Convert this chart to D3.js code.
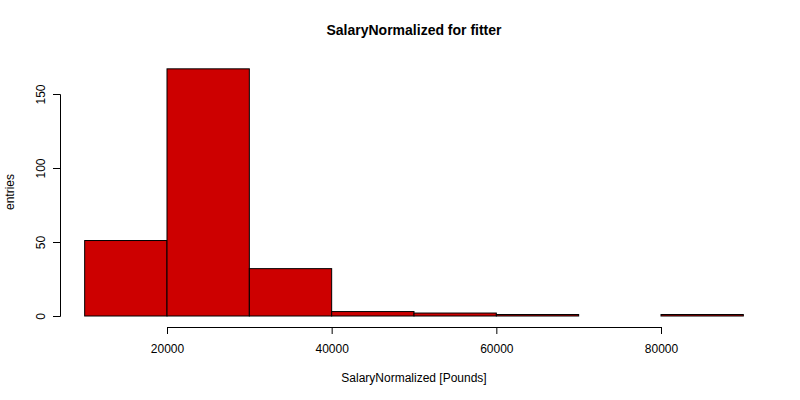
<!DOCTYPE html>
<meta charset="utf-8" />
<script src="https://d3js.org/d3.v7.js"></script>
<style>body{margin:0;background:#fff}</style>
<div id="chart"></div>
<script>
// histogram bins (lower edges) and counts
const binStarts = [10000, 20000, 30000, 40000, 50000, 60000, 70000, 80000];
const binWidth = 10000;
const counts = [51, 167, 32, 3, 2, 1, 0, 1];
const xTicks = [20000, 40000, 60000, 80000];
const yTicks = [0, 50, 100, 150];

const svg = d3.select("#chart").append("svg")
  .attr("width", 800).attr("height", 400)
  .style("font-family", "Liberation Sans, Arial, sans-serif");

const x = d3.scaleLinear().domain([20000, 80000]).range([167, 661]);
const y = d3.scaleLinear().domain([0, 150]).range([316, 94]);

svg.selectAll("rect.bar").data(binStarts).join("rect")
  .attr("x", d => x(d))
  .attr("width", d => x(d + binWidth) - x(d))
  .attr("y", (d, i) => y(counts[i]))
  .attr("height", (d, i) => y(0) - y(counts[i]))
  .attr("fill", "#cd0000")
  .attr("stroke", "#000").attr("stroke-width", 1);

const xAxis = svg.append("g").attr("transform", "translate(0,327)")
  .call(d3.axisBottom(x).tickValues(xTicks).tickFormat(d3.format("d")).tickSizeOuter(0).tickSize(7));
const yAxis = svg.append("g").attr("transform", "translate(60,0)")
  .call(d3.axisLeft(y).tickValues(yTicks).tickSizeOuter(0).tickSize(7));
[xAxis, yAxis].forEach(a => {
  a.selectAll("text").style("font-size", "12px").attr("fill", "#000");
  a.selectAll("line,path").attr("stroke", "#000");
});
xAxis.selectAll("text").attr("dy", "1.3em");
yAxis.selectAll("text").attr("transform", function() {
  const t = d3.select(this.parentNode).attr("transform");
  return "rotate(-90) translate(0,-6)";
}).attr("x", 0).attr("y", -9).attr("text-anchor", "middle").attr("dy", 0);

svg.append("text").attr("x", 414).attr("y", 35).attr("text-anchor", "middle")
  .style("font-size", "14px").style("font-weight", "bold").text("SalaryNormalized for fitter");
svg.append("text").attr("x", 414).attr("y", 382).attr("text-anchor", "middle")
  .style("font-size", "12px").text("SalaryNormalized [Pounds]");
svg.append("text").attr("transform", "translate(14,192) rotate(-90)").attr("text-anchor", "middle")
  .style("font-size", "12px").text("entries");
</script>
